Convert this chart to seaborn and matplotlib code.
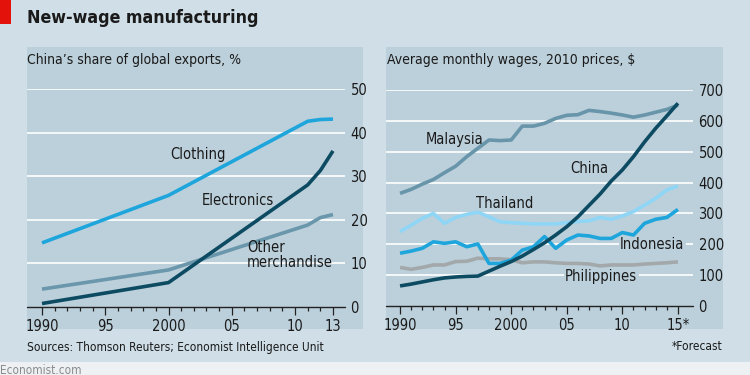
import matplotlib
matplotlib.use("Agg")
import matplotlib.pyplot as plt
import matplotlib.font_manager as fm
from matplotlib.patches import Rectangle
import seaborn as sns
import pandas as pd
import numpy as np

# ---------------- data ----------------
exp_years = [1990, 2000, 2011, 2012, 2013]
clothing = [14.7, 25.6, 42.6, 43.0, 43.1]
electronics = [0.8, 5.6, 28.0, 31.3, 35.8]
other = [4.1, 8.5, 18.8, 20.5, 21.2]
exp_ticks = [1990, 1995, 2000, 2005, 2010, 2013]
exp_ticklabels = ["1990", "95", "2000", "05", "10", "13"]

wage_years = list(range(1990, 2016))
malaysia = [365, 378, 395, 410, 432, 453, 484, 511, 538, 536, 538, 583, 583, 592,
            608, 618, 620, 634, 630, 625, 619, 612, 619, 628, 637, 651]
china = [65, 71, 78, 85, 91, 94, 96, 97, 113, 129, 144, 162, 183, 205, 230, 257,
         289, 326, 363, 405, 441, 484, 532, 576, 616, 657]
thailand = [241, 262, 284, 300, 268, 287, 297, 304, 289, 273, 270, 268, 266, 266,
            266, 270, 274, 276, 287, 281, 292, 306, 327, 349, 376, 389]
indonesia = [171, 178, 187, 208, 203, 208, 192, 201, 138, 138, 149, 181, 192, 225,
             187, 214, 230, 227, 219, 219, 238, 230, 268, 281, 287, 313]
philippines = [125, 119, 125, 133, 133, 144, 145, 155, 153, 153, 150, 140, 143, 143,
               140, 138, 138, 136, 130, 133, 133, 133, 136, 138, 140, 143]
wage_ticks = [1990, 1995, 2000, 2005, 2010, 2015]
wage_ticklabels = ["1990", "95", "2000", "05", "10", "15*"]

# ---------------- fonts ----------------
names = {f.name for f in fm.fontManager.ttflist}
stretch = "normal"
if "Liberation Sans Narrow" in names:
    FONT = "Liberation Sans Narrow"
elif any(f.name == "DejaVu Sans" and str(f.stretch) in ("condensed", "semi-condensed")
         for f in fm.fontManager.ttflist):
    FONT = "DejaVu Sans"
    stretch = "condensed"
else:
    FONT = "Roboto"

sns.set_theme(style="white")
plt.rcParams["font.family"] = [FONT, "DejaVu Sans"]
plt.rcParams["font.stretch"] = stretch

OUTER = "#cfdee7"
PANEL = "#bcd0db"
TXT = "#1a1a1a"
W, H = 750, 375

fig = plt.figure(figsize=(7.5, 3.75), dpi=100)
fig.patch.set_facecolor(OUTER)


def fx(px):
    return px / W


def fy(py):
    return 1 - py / H


def add_rect(x0, y0, w, h, color):
    fig.patches.append(Rectangle((x0, y0), w, h, transform=fig.transFigure,
                                 facecolor=color, edgecolor="none", zorder=-10))


add_rect(0, 0, 1, fy(361.5), "#edf1f4")        # bottom light strip
add_rect(0, fy(24), fx(11), 24 / H, "#e3120b")  # red tag
for x0, x1 in [(27, 363), (386, 723)]:
    add_rect(fx(x0), fy(329), fx(x1 - x0), (329 - 47) / H, PANEL)

fig.text(fx(27), fy(18), "New-wage manufacturing", fontsize=12.8, fontweight="bold",
         color=TXT, va="center", ha="left")
fig.text(fx(27), fy(60), "China\u2019s share of global exports, %", fontsize=10,
         color=TXT, va="center", ha="left")
fig.text(fx(387), fy(60), "Average monthly wages, 2010 prices, $", fontsize=10,
         color=TXT, va="center", ha="left")
fig.text(fx(27), fy(347), "Sources: Thomson Reuters; Economist Intelligence Unit",
         fontsize=8.6, color=TXT, va="center", ha="left")
fig.text(fx(722), fy(347), "*Forecast", fontsize=8.6, color=TXT, va="center", ha="right")
fig.text(fx(0), fy(370), "Economist.com", fontsize=8.5, color="#8a8a8a",
         va="center", ha="left")


def setup_axis(ax, xlim, ylim, yticks, xticks, xticklabels, first, last):
    ax.set_facecolor("none")
    ax.set_xlim(*xlim)
    ax.set_ylim(*ylim)
    for s in ax.spines.values():
        s.set_visible(False)
    ax.yaxis.tick_right()
    ax.set_yticks(yticks)
    ax.set_yticklabels([str(v) for v in yticks])
    ax.tick_params(axis="y", length=0, pad=4, labelsize=10.5, labelcolor=TXT)
    for v in yticks[1:]:
        ax.axhline(v, color="white", lw=1.2, zorder=1)
    ax.axhline(0, color="#222222", lw=1.0, zorder=2, clip_on=False)
    ax.set_xticks(xticks)
    ax.set_xticklabels(xticklabels)
    ax.set_xticks(list(range(first, last + 1)), minor=True)
    ax.tick_params(axis="x", which="both", bottom=True, top=False)
    ax.tick_params(axis="x", which="major", length=5.5, width=0.9, color="#222222",
                   direction="out", pad=3, labelsize=10.5, labelcolor=TXT)
    ax.tick_params(axis="x", which="minor", length=3.2, width=0.9, color="#222222",
                   direction="out")
    ax.set_xlabel("")
    ax.set_ylabel("")
    ax.grid(False)


# ---------------- left panel ----------------
ppy_l = (333 - 42) / 23
axL = fig.add_axes([fx(27), fy(307), fx(345 - 27), (307 - 89) / H])
dfL = pd.DataFrame({
    "year": exp_years * 3,
    "share": clothing + electronics + other,
    "series": ["Clothing"] * 5 + ["Electronics"] * 5 + ["Other"] * 5,
})
sns.lineplot(data=dfL, x="year", y="share", hue="series", ax=axL, legend=False,
             palette={"Clothing": "#1ea6dc", "Electronics": "#0d4b63", "Other": "#6a97ab"},
             hue_order=["Other", "Clothing", "Electronics"], linewidth=2.6, zorder=3)
for ln in axL.lines:
    ln.set_clip_on(False)
    ln.set_solid_capstyle("butt")
setup_axis(axL, (1990 - 15 / ppy_l, 2013 + 12 / ppy_l), (0, 50),
           [0, 10, 20, 30, 40, 50], exp_ticks, exp_ticklabels, 1990, 2013)
axL.text(2002.3, 35.0, "Clothing", fontsize=10.5, color=TXT, ha="center", va="center")
axL.text(2005.5, 24.5, "Electronics", fontsize=10.5, color=TXT, ha="center", va="center")
axL.text(2006.2, 12.0, "Other\nmerchandise", fontsize=10.5, color=TXT, ha="left",
         va="center", linespacing=1.0)

# ---------------- right panel ----------------
ppy_r = (678 - 401) / 25
axR = fig.add_axes([fx(386), fy(306), fx(693 - 386), (306 - 90) / H])
order = ["Philippines", "Malaysia", "Thailand", "Indonesia", "China"]
vals = {"Malaysia": malaysia, "China": china, "Thailand": thailand,
        "Indonesia": indonesia, "Philippines": philippines}
dfR = pd.DataFrame({
    "year": wage_years * len(order),
    "wage": sum((vals[k] for k in order), []),
    "country": sum(([k] * len(wage_years) for k in order), []),
})
sns.lineplot(data=dfR, x="year", y="wage", hue="country", hue_order=order, ax=axR,
             legend=False, linewidth=2.6, zorder=3,
             palette={"Malaysia": "#6895aa", "China": "#0d4b63", "Thailand": "#8fd6f6",
                      "Indonesia": "#1ea6dc", "Philippines": "#a3a8ab"})
for ln in axR.lines:
    ln.set_clip_on(False)
    ln.set_solid_capstyle("butt")
setup_axis(axR, (1990 - 14 / ppy_r, 2015 + 15 / ppy_r), (0, 700),
           [0, 100, 200, 300, 400, 500, 600, 700], wage_ticks, wage_ticklabels, 1990, 2015)
axR.text(1994.9, 540, "Malaysia", fontsize=10.5, color=TXT, ha="center", va="center")
axR.text(2007.0, 447, "China", fontsize=10.5, color=TXT, ha="center", va="center")
axR.text(1999.4, 333, "Thailand", fontsize=10.5, color=TXT, ha="center", va="center")
axR.text(2012.7, 200, "Indonesia", fontsize=10.5, color=TXT, ha="center", va="center",
         zorder=2, bbox=dict(facecolor=PANEL, edgecolor="none", pad=1.0))
axR.text(2008.1, 97, "Philippines", fontsize=10.5, color=TXT, ha="center", va="center",
         zorder=2, bbox=dict(facecolor=PANEL, edgecolor="none", pad=1.0))

fig.savefig("out.png", dpi=100, facecolor=fig.get_facecolor())
